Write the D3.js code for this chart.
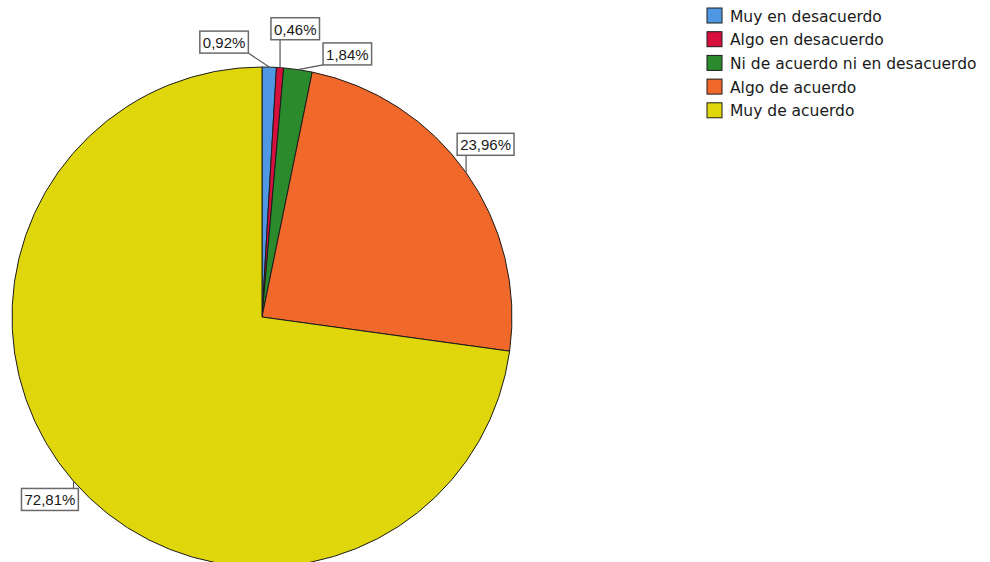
<!DOCTYPE html>
<html>
<head>
<meta charset="utf-8">
<script src="https://cdn.jsdelivr.net/npm/d3@7"></script>
<style>
  html, body { margin: 0; padding: 0; background: #ffffff; }
  svg { display: block; }
  text { fill: #1a1a1a; }
  .lbl text { font-family: "Liberation Sans", Arial, sans-serif; }
  .row text { font-family: "DejaVu Sans", Verdana, sans-serif; }
</style>
</head>
<body>
<svg id="chart" width="990" height="562"></svg>
<script>
// Response categories and their shares (%)
const categories = [
  "Muy en desacuerdo",
  "Algo en desacuerdo",
  "Ni de acuerdo ni en desacuerdo",
  "Algo de acuerdo",
  "Muy de acuerdo"
];
const values = [0.92, 0.46, 1.84, 23.96, 72.81];
const valueLabels = ["0,92%", "0,46%", "1,84%", "23,96%", "72,81%"];
const colors = ["#4f97e3", "#d60f3c", "#2a8a2c", "#f0682a", "#e0d60c"];

const svg = d3.select("#chart");
const cx = 262, cy = 317, radius = 250;

const data = categories.map((c, i) => ({ category: c, value: values[i], label: valueLabels[i], color: colors[i] }));

const pie = d3.pie().value(d => d.value).sort(null);
const arcs = pie(data);
const arc = d3.arc().innerRadius(0).outerRadius(radius);

const g = svg.append("g").attr("transform", `translate(${cx},${cy})`);

g.selectAll("path.slice")
  .data(arcs)
  .join("path")
  .attr("class", "slice")
  .attr("d", arc)
  .attr("fill", d => d.data.color)
  .attr("stroke", "#1c1c1c")
  .attr("stroke-width", 1);

// Label placement: radial position at the slice mid-angle, with small
// sideways shifts for the thin slices near the top so boxes don't collide.
const labelRadius = 280;
const labelShift = [[-46, 5], [13, -9], [45, 14], [-5, -11], [-1, -1.5]];
const pad = 3, boxH = 22;

const labels = g.selectAll("g.lbl")
  .data(arcs)
  .join("g")
  .attr("class", "lbl");

labels.each(function (d, i) {
  const sel = d3.select(this);
  const mid = (d.startAngle + d.endAngle) / 2;
  const lx = Math.sin(mid) * labelRadius + labelShift[i][0];
  const ly = -Math.cos(mid) * labelRadius + labelShift[i][1];

  const t = sel.append("text")
    .attr("x", lx)
    .attr("y", ly + 0.5)
    .attr("text-anchor", "middle")
    .attr("dominant-baseline", "central")
    .style("font-size", "15px")
    .text(d.data.label);
  const w = t.node().getComputedTextLength() + pad * 2;
  const x0 = lx - w / 2, y0 = ly - boxH / 2;

  // Leader line from the slice edge to the closest point of the box
  const ax = Math.sin(mid) * radius, ay = -Math.cos(mid) * radius;
  const bx = Math.max(x0, Math.min(x0 + w, ax));
  const by = Math.max(y0, Math.min(y0 + boxH, ay));
  sel.insert("line", "text")
    .attr("x1", ax).attr("y1", ay)
    .attr("x2", bx).attr("y2", by)
    .attr("stroke", "#555")
    .attr("stroke-width", 1.2);

  sel.insert("rect", "text")
    .attr("x", x0).attr("y", y0)
    .attr("width", w).attr("height", boxH)
    .attr("fill", "#ffffff")
    .attr("stroke", "#6a6a6a")
    .attr("stroke-width", 1.5);
});

// Legend
const legend = svg.append("g").attr("transform", "translate(707,8)");
const rowH = 23.7, sw = 15;
const rows = legend.selectAll("g.row")
  .data(data)
  .join("g")
  .attr("class", "row")
  .attr("transform", (d, i) => `translate(0,${i * rowH})`);

rows.append("rect")
  .attr("width", sw).attr("height", sw)
  .attr("fill", d => d.color)
  .attr("stroke", "#1c1c1c")
  .attr("stroke-width", 1);

rows.append("text")
  .attr("x", 23)
  .attr("y", sw / 2 + 1)
  .attr("dominant-baseline", "central")
  .style("font-size", "15.5px")
  .text(d => d.category);
</script>
</body>
</html>
